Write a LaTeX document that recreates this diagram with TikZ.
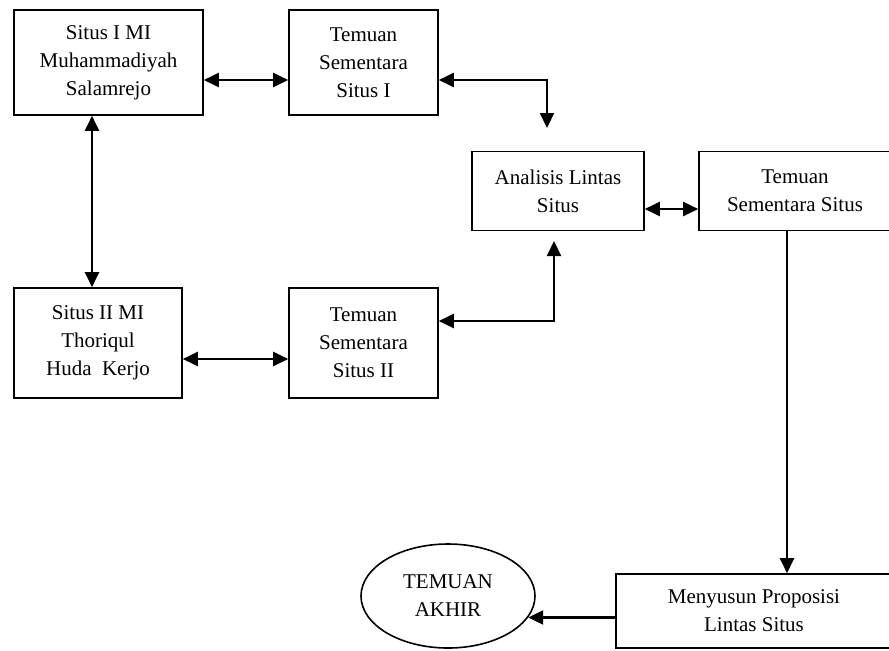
\documentclass[tikz,border=0pt]{standalone}
\usepackage{fontspec}
\setmainfont{Liberation Serif}
\usetikzlibrary{arrows.meta}
\usetikzlibrary{positioning,calc,shapes.geometric}

\begin{document}
\begin{tikzpicture}[x=0.5pt,y=-0.5pt,line width=1.1pt,
    kotak/.style={draw,line width=0.8pt,align=center,inner sep=0pt,font=\fontsize{10.5}{14}\selectfont},
    >={Triangle[length=7.5pt,width=7pt]}]
    \useasboundingbox (0,0) rectangle (889,650);

    \node[kotak,minimum width=94.5pt,minimum height=52.5pt] (S1) at (108.5,62.5) {Situs I MI\\Muhammadiyah\\Salamrejo};
    \node[kotak,minimum width=74.5pt,minimum height=52.5pt] (T1) at (363.5,62.5) {Temuan\\Sementara\\Situs I};
    \node[kotak,minimum width=84pt,minimum height=55pt] (S2) at (98,343) {Situs II MI\\Thoriqul\\Huda\ \ Kerjo};
    \node[kotak,minimum width=74.5pt,minimum height=55pt] (T2) at (363.5,343) {Temuan\\Sementara\\Situs II};
    \node[kotak,minimum width=86pt,minimum height=39.5pt] (AL) at (558,191) {Analisis Lintas\\Situs};
    \node[kotak,minimum width=96pt,minimum height=39.5pt] (TS) at (795,191) {Temuan\\Sementara Situs};
    \node[kotak,minimum width=138pt,minimum height=37pt] (MP) at (754,611) {Menyusun Proposisi\\Lintas Situs};
    \node[kotak,ellipse,minimum width=87pt,minimum height=52pt] (TA) at (448,596) {TEMUAN\\AKHIR};

    \coordinate (kA) at (547,128);
    \coordinate (kB) at (554,241);

    \draw[<->] (S1.east |- 0,80) -- (T1.west |- 0,80);
    \draw[<->] (T1.east |- 0,80) -| (kA);
    \draw[<->] (S1.south -| 92,0) -- (S2.north -| 92,0);
    \draw[<->] (S2.east |- 0,359) -- (T2.west |- 0,359);
    \draw[<->] (T2.east |- 0,321) -| (kB);
    \draw[<->] (AL.east |- 0,209) -- (TS.west |- 0,209);
    \draw[->] (TS.south -| 787,0) -- (MP.north -| 787,0);
    \draw[->] (TA.-15 -| MP.west) -- (TA.-15);
\end{tikzpicture}
\end{document}
